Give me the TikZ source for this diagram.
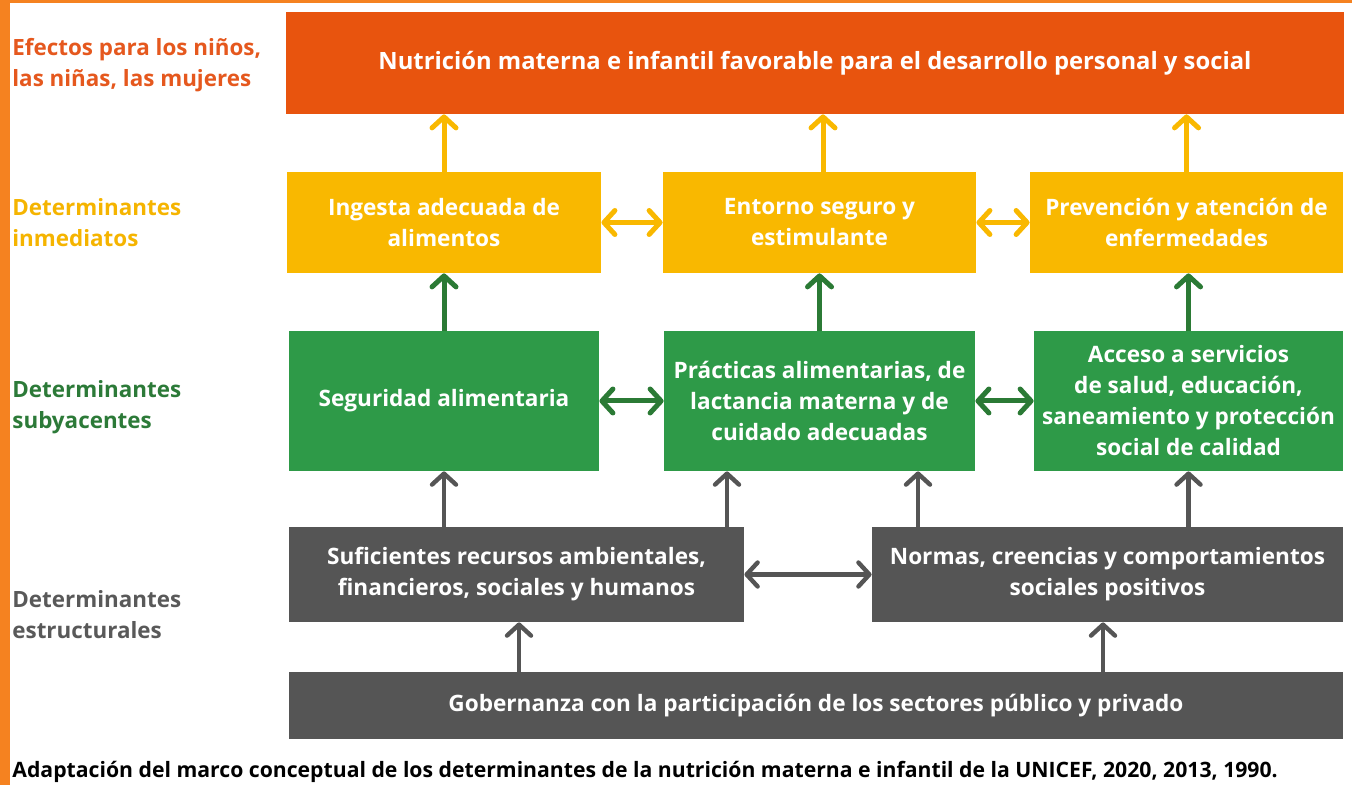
\documentclass[tikz,border=0pt]{standalone}
\usepackage{fontspec}
\setmainfont{Open Sans}
\usetikzlibrary{arrows.meta}
\definecolor{naranja}{HTML}{E8540E}
\definecolor{borde}{HTML}{F58220}
\definecolor{amarillo}{HTML}{F9B800}
\definecolor{verde}{HTML}{2E9A48}
\definecolor{verdeosc}{HTML}{2B7A35}
\definecolor{gris}{HTML}{555555}
\definecolor{txtnar}{HTML}{E5581E}
\definecolor{txtama}{HTML}{F5B400}
\definecolor{txtver}{HTML}{2C7A38}
\definecolor{txtgri}{HTML}{595959}
\tikzset{
  caja/.style={inner sep=0pt, align=center, text=white, font=\bfseries\fontsize{11.3}{15.5}\selectfont},
  nivel/.style={anchor=west, inner sep=0pt, align=left, font=\bfseries\fontsize{11.2}{15.5}\selectfont},
  punta/.style={-{Straight Barb[round, length=5.5pt, width=12pt]}},
  doble/.style={{Straight Barb[round, length=5.5pt, width=12pt]}-{Straight Barb[round, length=5.5pt, width=12pt]}},
  flecha amarilla/.style={line width=2.5pt, amarillo},
  flecha verde/.style={line width=2.5pt, verdeosc},
  flecha gris/.style={line width=2.2pt, gris}
}
\begin{document}
\begin{tikzpicture}[x=0.5pt, y=-0.5pt]
\useasboundingbox (0,0) rectangle (1352,785);
\fill [borde] (0,0) rectangle (10,785);
\fill [borde] (0,0) rectangle (1352,3);

% niveles
\node (l1) [nivel, text=txtnar] at (12,65) {Efectos para los niños,\\las niñas, las mujeres};
\node (l2) [nivel, text=txtama] at (12,223) {Determinantes\\inmediatos};
\node (l3) [nivel, text=txtver] at (12,407) {Determinantes\\subyacentes};
\node (l4) [nivel, text=txtgri] at (12,615) {Determinantes\\estructurales};

% cajas
\node (efecto) [caja, fill=naranja, minimum width=529pt, minimum height=51pt, font=\bfseries\fontsize{11.9}{15.5}\selectfont] at (815,63) {Nutrición materna e infantil favorable para el desarrollo personal y social};

\node (ingesta) [caja, fill=amarillo, minimum width=157pt, minimum height=50.5pt] at (444,222.5) {Ingesta adecuada de\\alimentos};
\node (entorno) [caja, fill=amarillo, minimum width=156.5pt, minimum height=50.5pt] at (819.5,222.5) {Entorno seguro y\\estimulante};
\node (prevencion) [caja, fill=amarillo, minimum width=156.5pt, minimum height=50.5pt] at (1186.5,222.5) {Prevención y atención de\\enfermedades};

\node (seguridad) [caja, fill=verde, minimum width=155pt, minimum height=70pt] at (444,401) {Seguridad alimentaria};
\node (practicas) [caja, fill=verde, minimum width=155.5pt, minimum height=70pt] at (819.5,401) {Prácticas alimentarias, de\\lactancia materna y de\\cuidado adecuadas};
\node (acceso) [caja, fill=verde, minimum width=154.5pt, minimum height=70pt] at (1188.5,401) {Acceso a servicios\\de salud, educación,\\saneamiento y protección\\social de calidad};

\node (recursos) [caja, fill=gris, minimum width=227.5pt, minimum height=47.5pt] at (516.5,574.5) {Suficientes recursos ambientales,\\financieros, sociales y humanos};
\node (normas) [caja, fill=gris, minimum width=235.5pt, minimum height=47.5pt] at (1107.5,574.5) {Normas, creencias y comportamientos\\sociales positivos};

\node (gobernanza) [caja, fill=gris, minimum width=527pt, minimum height=33.5pt] at (816,705.5) {Gobernanza con la participación de los sectores público y privado};

% flechas
\draw [punta, flecha amarilla] (ingesta.north) -- (ingesta.north |- efecto.south);
\draw [punta, flecha amarilla] ([xshift=1.75pt]entorno.north) -- ([xshift=1.75pt]entorno.north |- efecto.south);
\draw [punta, flecha amarilla] (prevencion.north) -- (prevencion.north |- efecto.south);
\draw [doble, flecha amarilla] (ingesta.east) -- (entorno.west);
\draw [doble, flecha amarilla] (entorno.east) -- (prevencion.west);

\draw [punta, flecha verde] (seguridad.north) -- (ingesta.south);
\draw [punta, flecha verde] (practicas.north) -- (practicas.north |- entorno.south);
\draw [punta, flecha verde] (acceso.north) -- (acceso.north |- prevencion.south);
\draw [doble, flecha verde] (seguridad.east) -- (practicas.west);
\draw [doble, flecha verde] (practicas.east) -- (acceso.west);

\draw [punta, flecha gris] (seguridad.south |- recursos.north) -- (seguridad.south);
\draw [punta, flecha gris] ([xshift=-46.25pt]practicas.south |- recursos.north) -- ([xshift=-46.25pt]practicas.south);
\draw [punta, flecha gris] ([xshift=49.25pt]practicas.south |- normas.north) -- ([xshift=49.25pt]practicas.south);
\draw [punta, flecha gris] (acceso.south |- normas.north) -- (acceso.south);
\draw [doble, flecha gris] (recursos.east) -- (normas.west);

\draw [punta, flecha gris] ([xshift=1.25pt]recursos.south |- gobernanza.north) -- ([xshift=1.25pt]recursos.south);
\draw [punta, flecha gris] ([xshift=-2.25pt]normas.south |- gobernanza.north) -- ([xshift=-2.25pt]normas.south);

\node (fuente) [anchor=west, inner sep=0pt, font=\bfseries\fontsize{10.6}{12}\selectfont] at (12,772) {Adaptación del marco conceptual de los determinantes de la nutrición materna e infantil de la UNICEF, 2020, 2013, 1990.};
\end{tikzpicture}
\end{document}
